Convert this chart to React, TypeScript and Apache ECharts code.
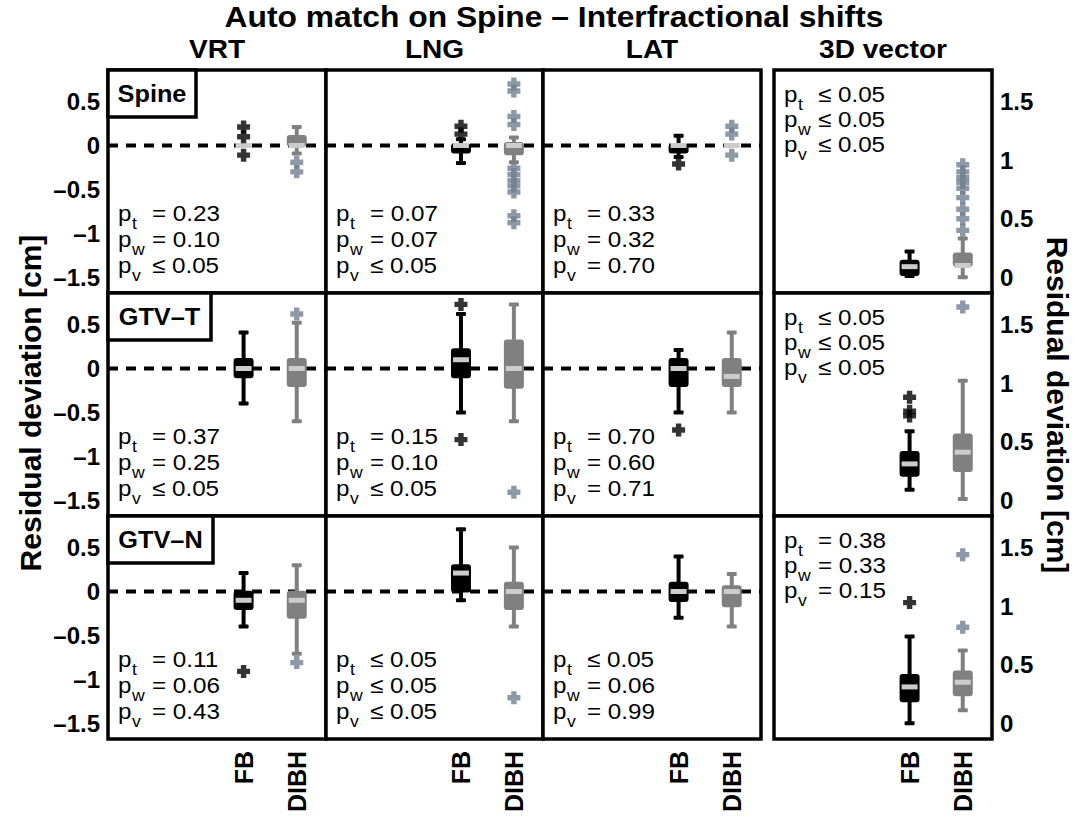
import React, { useEffect, useRef } from 'react';
import * as echarts from 'echarts';

const titleText = 'Auto match on Spine – Interfractional shifts';
const rowNames = ['Spine', 'GTV–T', 'GTV–N'];
const colNames = ['VRT', 'LNG', 'LAT', '3D vector'];
const groups = ['FB', 'DIBH'];
const groupPos = [1, 2];
const yTicksShift = [-1.5, -1, -0.5, 0, 0.5];
const yTicks3D = [0, 0.5, 1, 1.5];
const yLabel = 'Residual deviation [cm]';

// box stats: [low whisker, q1, median, q3, high whisker] for VRT, LNG, LAT, 3D vector
const fbSpine = [
  [0, 0, 0, 0, 0],
  [-0.2, -0.09, 0, 0.02, 0.07],
  [-0.13, -0.09, 0, 0.02, 0.11],
  [0.01, 0.01, 0.09, 0.15, 0.22],
];
const dibhSpine = [
  [-0.09, -0.01, 0, 0.12, 0.21],
  [-0.19, -0.11, 0, 0.04, 0.09],
  [0, 0, 0, 0, 0],
  [0, 0.09, 0.1, 0.21, 0.33],
];
const fbGtvT = [
  [-0.4, -0.11, 0, 0.12, 0.41],
  [-0.5, -0.11, 0.1, 0.23, 0.62],
  [-0.5, -0.21, 0, 0.12, 0.21],
  [0.09, 0.2, 0.31, 0.42, 0.59],
];
const dibhGtvT = [
  [-0.6, -0.21, 0, 0.12, 0.52],
  [-0.6, -0.23, 0, 0.33, 0.73],
  [-0.5, -0.21, -0.09, 0.12, 0.41],
  [0.01, 0.24, 0.41, 0.57, 1.02],
];
const fbGtvN = [
  [-0.4, -0.21, -0.1, 0.01, 0.21],
  [-0.1, -0.01, 0.21, 0.31, 0.71],
  [-0.3, -0.12, 0, 0.11, 0.4],
  [0, 0.18, 0.31, 0.42, 0.74],
];
const dibhGtvN = [
  [-0.71, -0.31, -0.1, 0.01, 0.3],
  [-0.4, -0.21, 0, 0.11, 0.5],
  [-0.4, -0.18, 0, 0.07, 0.2],
  [0.11, 0.23, 0.35, 0.45, 0.62],
];

// outliers per column
const outFbSpine = [[0.21, 0.1, -0.11], [0.22, 0.13], [-0.21], []];
const outDibhSpine = [
  [-0.19, -0.3],
  [0.7, 0.62, 0.33, 0.24, -0.26, -0.33, -0.4, -0.46, -0.53, -0.8, -0.88],
  [0.22, 0.13, -0.11],
  [0.96, 0.9, 0.85, 0.81, 0.76, 0.68, 0.58, 0.5, 0.4],
];
const outFbGtvT = [[], [0.73, -0.81], [-0.7], [0.88, 0.76, 0.72]];
const outDibhGtvT = [[0.62], [-1.41], [], [1.65]];
const outFbGtvN = [[-0.91], [], [], [1.03]];
const outDibhGtvN = [[-0.81], [-1.21], [], [1.44, 0.82]];

// p-values (t, w, v) per column
const pSpine = [
  ['= 0.23', '= 0.10', '≤ 0.05'],
  ['= 0.07', '= 0.07', '≤ 0.05'],
  ['= 0.33', '= 0.32', '= 0.70'],
  ['≤ 0.05', '≤ 0.05', '≤ 0.05'],
];
const pGtvT = [
  ['= 0.37', '= 0.25', '≤ 0.05'],
  ['= 0.15', '= 0.10', '≤ 0.05'],
  ['= 0.70', '= 0.60', '= 0.71'],
  ['≤ 0.05', '≤ 0.05', '≤ 0.05'],
];
const pGtvN = [
  ['= 0.11', '= 0.06', '= 0.43'],
  ['≤ 0.05', '≤ 0.05', '≤ 0.05'],
  ['≤ 0.05', '= 0.06', '= 0.99'],
  ['= 0.38', '= 0.33', '= 0.15'],
];
const pSubs = ['t', 'w', 'v'];

const fbRows = [fbSpine, fbGtvT, fbGtvN];
const dibhRows = [dibhSpine, dibhGtvT, dibhGtvN];
const outFbRows = [outFbSpine, outFbGtvT, outFbGtvN];
const outDibhRows = [outDibhSpine, outDibhGtvT, outDibhGtvN];
const pRows = [pSpine, pGtvT, pGtvN];

// layout
const FONT = '"Liberation Sans", Arial, Helvetica, sans-serif';
const colLeft = [108, 326, 543, 774];
const colWidth = [218, 217, 218, 218];
const rowTop = [70, 293, 516];
const rowH = 223;
const X_MIN = -1.55;
const X_MAX = 2.55;
const Y_MIN = -1.68;
const Y_MAX = 0.86;
const Y3_MIN = -0.135;
const Y3_MAX = 1.77;
const rowBoxW = [88, 103, 105];
const BORDER = 3.5;
const SX = 1.1;

const FB_COLOR = '#000000';
const DIBH_COLOR = '#808080';
const MED_COLOR = '#cccccc';
const OUT_FB = '#000000';
const OUT_DIBH = '#708090';
const PLUS = 'path://M3.5,0H8.5V3.5H12V8.5H8.5V12H3.5V8.5H0V3.5H3.5Z';

const renderBox = (params: any, api: any) => {
  const g = api.value(0);
  const vals = [1, 2, 3, 4, 5].map((k) => api.value(k));
  const cx = api.coord([g, vals[0]])[0];
  const ys = vals.map((v) => api.coord([g, v])[1]);
  const [yLow, yQ1, yMed, yQ3, yHigh] = ys;
  const color = g === 1 ? FB_COLOR : DIBH_COLOR;
  const boxW = 20;
  const capW = 10;
  const lw = 4;
  const children: any[] = [];
  if (yLow - yHigh > 0.5) {
    children.push({ type: 'rect', shape: { x: cx - lw / 2, y: yHigh, width: lw, height: yLow - yHigh }, style: { fill: color } });
    children.push({ type: 'rect', shape: { x: cx - capW / 2, y: yHigh - 2, width: capW, height: 4, r: 1 }, style: { fill: color } });
    children.push({ type: 'rect', shape: { x: cx - capW / 2, y: yLow - 2, width: capW, height: 4, r: 1 }, style: { fill: color } });
  }
  if (yQ1 - yQ3 > 0.5) {
    children.push({ type: 'rect', shape: { x: cx - boxW / 2, y: yQ3, width: boxW, height: yQ1 - yQ3, r: 3 }, style: { fill: color } });
  }
  children.push({ type: 'rect', shape: { x: cx - 8, y: yMed - 2.5, width: 16, height: 5 }, style: { fill: MED_COLOR } });
  return { type: 'group', children };
};

const txt = (text: string, x: number, y: number, font: string, align: string, extra: any = {}) => ({
  type: 'text',
  x,
  y,
  z: 50,
  ...extra,
  style: {
    text,
    fill: '#000',
    font,
    textAlign: align,
    align,
    textVerticalAlign: 'middle',
    verticalAlign: 'middle',
  },
});

export default function App() {
  const ref = useRef<HTMLDivElement>(null);

  useEffect(() => {
    if (!ref.current) return;
    const chart = echarts.init(ref.current, undefined, { renderer: 'svg' });

    const grids: any[] = [];
    const xAxes: any[] = [];
    const yAxes: any[] = [];
    const series: any[] = [];
    const graphics: any[] = [];

    for (let r = 0; r < 3; r++) {
      for (let c = 0; c < 4; c++) {
        const idx = r * 4 + c;
        const is3D = c === 3;
        grids.push({
          left: colLeft[c],
          top: rowTop[r],
          width: colWidth[c],
          height: rowH,
          show: true,
          borderColor: '#000',
          borderWidth: BORDER,
          backgroundColor: '#fff',
        });
        xAxes.push({
          gridIndex: idx,
          type: 'value',
          min: X_MIN,
          max: X_MAX,
          axisLine: { show: false },
          axisTick: { show: false },
          splitLine: { show: false },
          axisLabel:
            r === 2
              ? {
                  show: true,
                  customValues: groupPos,
                  rotate: 90,
                  margin: 12,
                  formatter: (v: number) => (v === 1 ? groups[0] : v === 2 ? groups[1] : ''),
                  color: '#000',
                  fontSize: 25,
                  fontWeight: 'bold',
                  fontFamily: FONT,
                }
              : { show: false },
        });
        const showY = c === 0 || is3D;
        yAxes.push({
          gridIndex: idx,
          type: 'value',
          position: is3D ? 'right' : 'left',
          min: is3D ? Y3_MIN : Y_MIN,
          max: is3D ? Y3_MAX : Y_MAX,
          axisLine: { show: false },
          axisTick: { show: false },
          splitLine: { show: false },
          axisLabel: showY
            ? {
                show: true,
                customValues: is3D ? yTicks3D : yTicksShift,
                margin: 8,
                formatter: (v: number) => String(v).replace('-', '–'),
                color: '#000',
                fontSize: 24,
                fontWeight: 'bold',
                fontFamily: FONT,
              }
            : { show: false },
        });

        if (!is3D) {
          series.push({
            type: 'line',
            xAxisIndex: idx,
            yAxisIndex: idx,
            data: [[X_MIN, 0], [X_MAX, 0]],
            symbol: 'none',
            silent: true,
            z: 1,
            lineStyle: { color: '#000', width: 4, type: [10, 8] },
          });
        }
        series.push({
          type: 'custom',
          xAxisIndex: idx,
          yAxisIndex: idx,
          z: 3,
          renderItem: renderBox,
          encode: { x: 0, y: [1, 2, 3, 4, 5] },
          data: [
            [groupPos[0], ...fbRows[r][c]],
            [groupPos[1], ...dibhRows[r][c]],
          ],
        });
        series.push({
          type: 'scatter',
          xAxisIndex: idx,
          yAxisIndex: idx,
          z: 4,
          symbol: PLUS,
          symbolSize: 13,
          itemStyle: { color: OUT_FB },
          data: outFbRows[r][c].map((v) => [groupPos[0], v]),
        });
        series.push({
          type: 'scatter',
          xAxisIndex: idx,
          yAxisIndex: idx,
          z: 4,
          symbol: PLUS,
          symbolSize: 13,
          itemStyle: { color: OUT_DIBH },
          data: outDibhRows[r][c].map((v) => [groupPos[1], v]),
        });

        // p-value annotations
        const tx = colLeft[c] + 10;
        const lineY = is3D ? [24, 49, 74] : [143, 169, 195];
        for (let k = 0; k < 3; k++) {
          const y = rowTop[r] + lineY[k];
          graphics.push(txt('p', tx, y, `22px ${FONT}`, 'left', { scaleX: SX }));
          graphics.push(txt(pSubs[k], tx + 14, y + 11, `16px ${FONT}`, 'left', { scaleX: SX }));
          graphics.push(txt(pRows[r][c][k], tx + 34, y, `22px ${FONT}`, 'left', { scaleX: SX }));
        }
      }
      // row label box
      graphics.push({
        type: 'rect', z: 60,
        shape: { x: colLeft[0], y: rowTop[r], width: rowBoxW[r], height: 47 },
        style: { fill: '#fff', stroke: '#000', lineWidth: BORDER },
      });
      graphics.push({
        ...txt(rowNames[r], colLeft[0] + rowBoxW[r] / 2, rowTop[r] + 24, `bold 23px ${FONT}`, 'center', { scaleX: SX }),
        z: 61,
      });
    }

    graphics.push(txt(titleText, 554, 17, `bold 30px ${FONT}`, 'center', { scaleX: 1.06 }));
    for (let c = 0; c < 4; c++) {
      graphics.push(txt(colNames[c], colLeft[c] + colWidth[c] / 2, 49, `bold 26px ${FONT}`, 'center', { scaleX: 1.08 }));
    }
    graphics.push(txt(yLabel, 30, 403, `bold 30px ${FONT}`, 'center', { rotation: Math.PI / 2 }));
    graphics.push(txt(yLabel, 1057, 405, `bold 30px ${FONT}`, 'center', { rotation: -Math.PI / 2 }));

    chart.setOption({
      animation: false,
      backgroundColor: '#fff',
      grid: grids,
      xAxis: xAxes,
      yAxis: yAxes,
      series,
      graphic: { elements: graphics },
    });

    return () => chart.dispose();
  }, []);

  return (
    <div
      ref={ref}
      style={{ position: 'absolute', left: 0, top: 0, width: 1083, height: 821, background: '#fff' }}
    />
  );
}
